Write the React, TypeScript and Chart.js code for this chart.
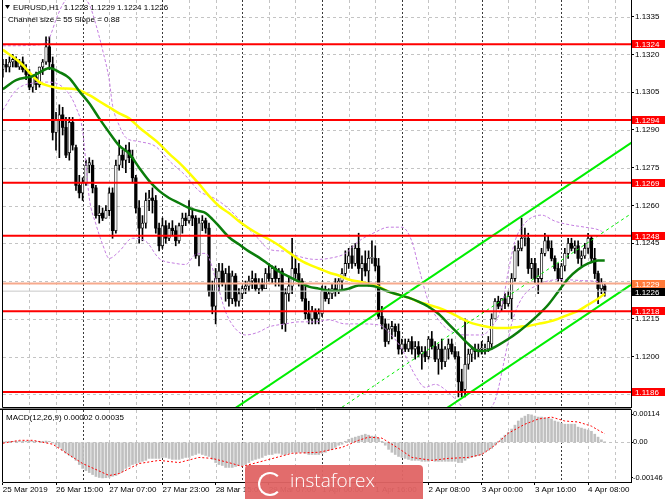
import React, { useEffect, useRef } from "react";
import { Chart, registerables } from "chart.js";
Chart.register(...registerables);

const FONT = '"Liberation Sans", Arial, sans-serif';

// ---------- candles (EURUSD H1) ----------
const opens = [1.1314,1.1316,1.1315,1.1317,1.1318,1.1315,1.1317,1.1314,1.1312,1.1307,
1.1311,1.1308,1.1315,1.1317,1.1323,1.1316,1.1289,1.1294,1.1296,1.1291,
1.1281,1.1293,1.1283,1.1268,1.1265,1.1269,1.1276,1.1276,1.1267,1.1256,
1.1257,1.1255,1.1258,1.1265,1.1250,1.1276,1.1280,1.1278,1.1282,1.1279,
1.1271,1.1259,1.1251,1.1253,1.1262,1.1263,1.1262,1.1251,1.1244,1.1252,
1.1247,1.1251,1.1250,1.1246,1.1252,1.1255,1.1254,1.1256,1.1255,1.1240,
1.1253,1.1254,1.1251,1.1226,1.1220,1.1231,1.1234,1.1229,1.1233,1.1223,
1.1232,1.1222,1.1225,1.1227,1.1228,1.1230,1.1231,1.1227,1.1229,1.1227,
1.1233,1.1231,1.1235,1.1231,1.1234,1.1213,1.1225,1.1228,1.1235,1.1233,
1.1230,1.1223,1.1217,1.1215,1.1218,1.1215,1.1217,1.1226,1.1223,1.1225,
1.1227,1.1226,1.1230,1.1233,1.1237,1.1240,1.1237,1.1243,1.1235,1.1237,
1.1234,1.1239,1.1239,1.1236,1.1216,1.1213,1.1206,1.1211,1.1212,1.1210,
1.1203,1.1205,1.1203,1.1206,1.1203,1.1204,1.1201,1.1202,1.1200,1.1207,
1.1204,1.1199,1.1203,1.1198,1.1203,1.1205,1.1202,1.1200,1.1190,1.1187,
1.1197,1.1201,1.1203,1.1202,1.1203,1.1203,1.1203,1.1205,1.1215,1.1222,
1.1220,1.1223,1.1221,1.1223,1.1231,1.1242,1.1243,1.1247,1.1247,1.1235,
1.1237,1.1231,1.1231,1.1241,1.1246,1.1243,1.1239,1.1235,1.1231,1.1236,
1.1241,1.1245,1.1243,1.1244,1.1239,1.1240,1.1243,1.1247,1.1239,1.1233,
1.1227,1.1228];
const highs = [1.1318,1.1318,1.1319,1.1320,1.1319,1.1318,1.1319,1.1316,1.1314,1.1312,
1.1313,1.1315,1.1318,1.1327,1.1327,1.1319,1.1297,1.1300,1.1299,1.1295,
1.1295,1.1295,1.1284,1.1272,1.1271,1.1278,1.1279,1.1278,1.1268,1.1260,
1.1259,1.1260,1.1267,1.1267,1.1278,1.1286,1.1282,1.1284,1.1285,1.1282,
1.1272,1.1262,1.1256,1.1265,1.1266,1.1267,1.1264,1.1253,1.1255,1.1254,
1.1253,1.1254,1.1252,1.1253,1.1257,1.1257,1.1262,1.1259,1.1256,1.1255,
1.1256,1.1255,1.1253,1.1230,1.1235,1.1237,1.1237,1.1235,1.1236,1.1234,
1.1233,1.1227,1.1228,1.1230,1.1232,1.1234,1.1233,1.1231,1.1231,1.1235,
1.1237,1.1236,1.1236,1.1235,1.1235,1.1227,1.1232,1.1247,1.1240,1.1237,
1.1231,1.1228,1.1222,1.1220,1.1219,1.1219,1.1228,1.1228,1.1227,1.1229,
1.1231,1.1231,1.1235,1.1242,1.1243,1.1244,1.1245,1.1249,1.1240,1.1242,
1.1242,1.1246,1.1244,1.1239,1.1220,1.1215,1.1213,1.1214,1.1213,1.1213,
1.1207,1.1207,1.1207,1.1208,1.1206,1.1206,1.1204,1.1204,1.1208,1.1210,
1.1206,1.1205,1.1207,1.1204,1.1207,1.1207,1.1204,1.1202,1.1195,1.1215,
1.1203,1.1204,1.1205,1.1205,1.1206,1.1205,1.1208,1.1217,1.1223,1.1224,
1.1223,1.1225,1.1226,1.1233,1.1244,1.1246,1.1255,1.1251,1.1249,1.1239,
1.1239,1.1235,1.1243,1.1249,1.1248,1.1246,1.1240,1.1237,1.1237,1.1243,
1.1247,1.1247,1.1246,1.1246,1.1242,1.1245,1.1249,1.1248,1.1243,1.1234,
1.1231,1.1229];
const lows = [1.1311,1.1313,1.1313,1.1315,1.1315,1.1314,1.1313,1.1310,1.1306,1.1305,
1.1306,1.1307,1.1312,1.1316,1.1314,1.1286,1.1282,1.1279,1.1288,1.1279,
1.1278,1.1282,1.1266,1.1263,1.1262,1.1268,1.1273,1.1265,1.1255,1.1253,
1.1254,1.1255,1.1256,1.1247,1.1249,1.1274,1.1275,1.1273,1.1277,1.1269,
1.1257,1.1245,1.1246,1.1251,1.1258,1.1257,1.1249,1.1242,1.1243,1.1245,
1.1246,1.1248,1.1244,1.1245,1.1249,1.1252,1.1253,1.1252,1.1239,1.1236,
1.1250,1.1249,1.1224,1.1217,1.1213,1.1226,1.1228,1.1222,1.1220,1.1221,
1.1220,1.1220,1.1223,1.1225,1.1226,1.1227,1.1226,1.1225,1.1226,1.1227,
1.1230,1.1229,1.1228,1.1228,1.1211,1.1210,1.1222,1.1225,1.1231,1.1228,
1.1222,1.1215,1.1213,1.1213,1.1213,1.1213,1.1216,1.1222,1.1221,1.1223,
1.1224,1.1225,1.1227,1.1232,1.1235,1.1235,1.1236,1.1233,1.1230,1.1232,
1.1228,1.1237,1.1234,1.1215,1.1211,1.1204,1.1205,1.1207,1.1208,1.1201,
1.1201,1.1202,1.1202,1.1201,1.1199,1.1200,1.1195,1.1198,1.1199,1.1203,
1.1198,1.1193,1.1195,1.1196,1.1199,1.1201,1.1199,1.1184,1.1184,1.1184,
1.1195,1.1198,1.1199,1.1200,1.1201,1.1201,1.1202,1.1203,1.1215,1.1219,
1.1218,1.1219,1.1220,1.1215,1.1230,1.1236,1.1242,1.1244,1.1233,1.1231,
1.1229,1.1225,1.1229,1.1240,1.1242,1.1238,1.1234,1.1230,1.1230,1.1234,
1.1239,1.1242,1.1241,1.1237,1.1236,1.1239,1.1241,1.1238,1.1231,1.1221,
1.1225,1.1224];
const closes = [1.1316,1.1315,1.1317,1.1318,1.1315,1.1317,1.1314,1.1312,1.1307,1.1311,
1.1308,1.1315,1.1317,1.1323,1.1317,1.1289,1.1294,1.1296,1.1291,1.1280,
1.1293,1.1284,1.1268,1.1265,1.1269,1.1276,1.1277,1.1267,1.1256,1.1257,
1.1255,1.1258,1.1265,1.1250,1.1276,1.1280,1.1278,1.1282,1.1279,1.1271,
1.1259,1.1251,1.1253,1.1262,1.1263,1.1262,1.1251,1.1244,1.1252,1.1247,
1.1251,1.1250,1.1246,1.1252,1.1255,1.1254,1.1256,1.1255,1.1240,1.1253,
1.1254,1.1251,1.1226,1.1220,1.1231,1.1234,1.1229,1.1233,1.1223,1.1232,
1.1222,1.1225,1.1227,1.1228,1.1230,1.1231,1.1227,1.1229,1.1227,1.1233,
1.1231,1.1235,1.1231,1.1234,1.1213,1.1225,1.1228,1.1235,1.1233,1.1230,
1.1223,1.1217,1.1215,1.1218,1.1215,1.1217,1.1226,1.1223,1.1225,1.1227,
1.1226,1.1230,1.1233,1.1237,1.1240,1.1237,1.1243,1.1235,1.1237,1.1234,
1.1239,1.1239,1.1236,1.1216,1.1213,1.1206,1.1211,1.1212,1.1210,1.1203,
1.1205,1.1203,1.1206,1.1203,1.1204,1.1201,1.1202,1.1200,1.1207,1.1204,
1.1199,1.1203,1.1198,1.1203,1.1205,1.1202,1.1200,1.1190,1.1186,1.1197,
1.1201,1.1203,1.1202,1.1203,1.1203,1.1203,1.1206,1.1215,1.1222,1.1220,
1.1223,1.1221,1.1224,1.1231,1.1242,1.1243,1.1247,1.1247,1.1235,1.1237,
1.1231,1.1232,1.1241,1.1246,1.1243,1.1239,1.1235,1.1231,1.1236,1.1241,
1.1245,1.1243,1.1244,1.1239,1.1240,1.1243,1.1247,1.1239,1.1233,1.1227,
1.1229,1.1226];

// ---------- indicators (bar index, value) ----------
const greenMA = [[0,1.13062],[4,1.13098],[9,1.13114],[13,1.13142],[14,1.13146],[17,1.1313],[20,1.13106],[23,1.13054],[26,1.13006],[29,1.12946],[32,1.1289],[35,1.12838],[38,1.12806],[41,1.1275],[44,1.12698],[47,1.12658],[50,1.1263],[53,1.1261],[56,1.1259],[59,1.12578],[61,1.1257],[63,1.12546],[65,1.12518],[68,1.12474],[71,1.12446],[74,1.12418],[77,1.12394],[80,1.12366],[83,1.12338],[86,1.12318],[89,1.12298],[92,1.12278],[95,1.1227],[98,1.12262],[101,1.12262],[104,1.1227],[107,1.12282],[110,1.12282],[113,1.12274],[116,1.12258],[119,1.12246],[122,1.12234],[125,1.12218],[128,1.12198],[131,1.1217],[134,1.1213],[137,1.1209],[140,1.1205],[143,1.12022],[146,1.12026],[149,1.12046],[152,1.1207],[155,1.12098],[158,1.1213],[161,1.12166],[164,1.12206],[167,1.12258],[170,1.1231],[173,1.12346],[176,1.1237],[179,1.12382],[181,1.12382]];
const yellowMA = [[0,1.13218],[5,1.1317],[11,1.1309],[14,1.13074],[17,1.13066],[22,1.13062],[26,1.13038],[29,1.13014],[32,1.1299],[35,1.12966],[38,1.12946],[41,1.1291],[44,1.12878],[47,1.12846],[50,1.12806],[53,1.1277],[56,1.1273],[59,1.12686],[62,1.12638],[65,1.12598],[68,1.1257],[71,1.12538],[74,1.1251],[77,1.12486],[80,1.12466],[83,1.12442],[86,1.12414],[89,1.12386],[92,1.12366],[95,1.1235],[98,1.12334],[101,1.12322],[104,1.12306],[107,1.12298],[110,1.1229],[113,1.12278],[116,1.12258],[119,1.12246],[122,1.12234],[125,1.12218],[128,1.12206],[131,1.12194],[134,1.12178],[137,1.12158],[140,1.12138],[143,1.12126],[146,1.12118],[149,1.12114],[152,1.12114],[155,1.12118],[158,1.12122],[161,1.1213],[164,1.12138],[167,1.1215],[170,1.12166],[173,1.12182],[176,1.12206],[179,1.1223],[181,1.1225]];
const bandUpper = [[0,1.13234],[11,1.13238],[14,1.13266],[16,1.13338],[18,1.13398],[20,1.13426],[23,1.13426],[26,1.13398],[28,1.13318],[30,1.13218],[32,1.13098],[33,1.12998],[35,1.12918],[37,1.1287],[41,1.12854],[46,1.12834],[50,1.12778],[55,1.12718],[59,1.12658],[64,1.12626],[68,1.12586],[73,1.12518],[77,1.12466],[80,1.12426],[85,1.12418],[89,1.12398],[94,1.12386],[98,1.1239],[103,1.1241],[107,1.12458],[112,1.12494],[116,1.12514],[120,1.12514],[123,1.12458],[125,1.12358],[128,1.12218],[131,1.12146],[134,1.12106],[139,1.12086],[144,1.12086],[147,1.12118],[150,1.12198],[152,1.12338],[154,1.12458],[157,1.1253],[162,1.12562],[166,1.12538],[171,1.12522],[175,1.12514],[180,1.12498],[181,1.12486]];
const bandLower = [[0,1.12978],[4,1.13058],[9,1.13086],[14,1.1309],[19,1.13058],[22,1.1299],[24,1.12898],[25,1.12766],[26,1.1263],[28,1.12526],[30,1.12446],[32,1.1239],[35,1.12418],[39,1.1247],[43,1.12458],[47,1.1239],[52,1.1237],[55,1.12366],[58,1.12406],[61,1.1241],[64,1.1231],[67,1.12178],[70,1.1211],[73,1.12086],[77,1.12098],[80,1.12118],[85,1.1213],[89,1.12138],[94,1.12138],[98,1.12146],[103,1.1213],[107,1.1213],[113,1.12126],[116,1.12098],[120,1.1203],[124,1.11926],[127,1.11878],[130,1.1189],[134,1.11858],[137,1.11818],[140,1.11778],[145,1.11786],[148,1.11826],[151,1.11998],[153,1.1213],[156,1.1223],[161,1.12286],[168,1.12306],[174,1.12302],[180,1.12294],[181,1.12282]];
const channelUpper = [[60,1.11708],[190,1.12858]];
const channelMiddle = [[90,1.11693],[190,1.12577]];
const channelLower = [[120,1.11676],[190,1.12295]];

const levels = [1.1324, 1.1294, 1.1269, 1.1248, 1.1218, 1.1186];
const askPrice = 1.1229;
const bidPrice = 1.1226;

const priceGrid = [1.1335,1.1320,1.1305,1.1290,1.1275,1.1260,1.1245,1.1230,1.1215,1.1200,1.1185];
const priceTickLabels = [1.1335,1.1320,1.1305,1.1290,1.1275,1.1260,1.1245,1.1215,1.1200];

const timeLabels = ["25 Mar 2019","26 Mar 15:00","27 Mar 07:00","27 Mar 23:00","28 Mar 15:00","29 Mar 07:00","1 Apr 00:00","1 Apr 16:00","2 Apr 08:00","3 Apr 00:00","3 Apr 16:00","4 Apr 08:00"];
const timeLabelBars = [0,16,32,48,64,80,96,112,128,144,160,176];
const gridBars = [8,16,32,40,56,64,80,88,104,112,128,136,152,160,176,184];
const daySeparatorBars = [24,48,72,96,120,144,168];

// ---------- MACD(12,26,9) ----------
const macdHist = [0.00002,0.00003,0.00004,0.00004,0.00004,0.00004,0.00004,0.00004,0.00004,0.00004,
0.00004,0.00004,0.00004,0.00005,0.00004,-0.00003,-0.00012,-0.00021,-0.00033,-0.00045,
-0.00054,-0.00062,-0.00074,-0.00091,-0.00107,-0.00116,-0.00124,-0.00132,-0.0014,-0.00144,
-0.00146,-0.00145,-0.00143,-0.00139,-0.00136,-0.00128,-0.0012,-0.00107,-0.00099,-0.00091,
-0.00087,-0.00083,-0.00078,-0.00074,-0.00066,-0.00066,-0.00066,-0.00066,-0.00062,-0.00062,
-0.00066,-0.0007,-0.0007,-0.0007,-0.00066,-0.00062,-0.00062,-0.00054,-0.0005,-0.00045,
-0.0005,-0.00054,-0.00058,-0.0007,-0.00083,-0.00091,-0.00095,-0.00103,-0.00103,-0.00103,
-0.00099,-0.00095,-0.00095,-0.00091,-0.00083,-0.00074,-0.0007,-0.00066,-0.00062,-0.00054,
-0.0005,-0.0005,-0.00045,-0.00045,-0.0005,-0.0005,-0.00045,-0.00041,-0.00041,-0.00041,
-0.00041,-0.00045,-0.0005,-0.0005,-0.0005,-0.0005,-0.00045,-0.00041,-0.00033,-0.00029,
-0.00021,-0.00012,-0.00008,0.00004,0.00012,0.00017,0.00021,0.00025,0.00029,0.00033,
0.00029,0.00025,0.00025,0.00017,0.00004,-0.00012,-0.00029,-0.00041,-0.0005,-0.00058,
-0.00062,-0.00066,-0.0007,-0.00074,-0.00074,-0.00074,-0.00078,-0.00078,-0.00078,-0.00074,
-0.00078,-0.00078,-0.00078,-0.00078,-0.00078,-0.00078,-0.00078,-0.00083,-0.00083,-0.00074,
-0.00066,-0.00062,-0.00058,-0.00054,-0.0005,-0.00041,-0.00033,-0.00025,-0.00012,0.00004,
0.00017,0.00029,0.00041,0.00054,0.0007,0.00087,0.00099,0.00107,0.00114,0.00112,
0.00107,0.00103,0.00103,0.00099,0.00099,0.00095,0.00087,0.00083,0.00078,0.00074,
0.00074,0.00074,0.00074,0.00062,0.00058,0.00054,0.0005,0.00045,0.00033,0.00021,
0.0001,0.00002];
const macdSignal = [[0,-0.00004],[5,0.00008],[9,0.00008],[15,-0.00008],[24,-0.00087],[32,-0.00136],[35,-0.00128],[41,-0.00087],[47,-0.00074],[53,-0.00083],[59,-0.00062],[63,-0.00066],[69,-0.00087],[72,-0.00099],[79,-0.00074],[87,-0.00045],[95,-0.00041],[102,-0.00021],[107,0.00008],[110,0.00021],[114,0.00017],[119,-0.00025],[123,-0.00062],[129,-0.00074],[134,-0.00066],[140,-0.00062],[144,-0.0005],[148,-0.00012],[152,0.00037],[157,0.00074],[161,0.00095],[165,0.00103],[169,0.00087],[173,0.00083],[177,0.00066],[179,0.0005],[181,0.00035]];
const macdTicks = [0.00114, 0, -0.00146];
const macdTickLabels = ["0.00114", "0.00", "-0.00146"];

// ---------- view ----------
const X_MIN = 0.06, X_MAX = 188.9;
const PRICE_MIN = 1.118, PRICE_MAX = 1.13416;
const MACD_MIN = -0.001625, MACD_MAX = 0.00132;

const pts = (arr: number[][]) => arr.map(([x, y]) => ({ x, y }));
const barIdx = opens.map((_, i) => i);

function drawVerticalGrid(chart: any) {
  const { ctx, chartArea: a, scales } = chart;
  const xs = scales.x;
  ctx.save();
  ctx.beginPath();
  ctx.rect(a.left, a.top, a.right - a.left, a.bottom - a.top);
  ctx.clip();
  ctx.lineWidth = 1;
  ctx.strokeStyle = "#c4c4c4";
  ctx.setLineDash([3, 3]);
  for (const b of gridBars) {
    const x = Math.round(xs.getPixelForValue(b)) + 0.5;
    ctx.beginPath(); ctx.moveTo(x, a.top); ctx.lineTo(x, a.bottom); ctx.stroke();
  }
  ctx.strokeStyle = "#3a3a3a";
  ctx.setLineDash([2, 2]);
  for (const b of daySeparatorBars) {
    const x = Math.round(xs.getPixelForValue(b)) + 0.5;
    ctx.beginPath(); ctx.moveTo(x, a.top); ctx.lineTo(x, a.bottom); ctx.stroke();
  }
  ctx.restore();
}

const mainPlugin = {
  id: "mainDeco",
  beforeDatasetsDraw(chart: any) {
    const { ctx, chartArea: a, scales } = chart;
    const ys = scales.y;
    ctx.save();
    ctx.lineWidth = 1;
    ctx.strokeStyle = "#c4c4c4";
    ctx.setLineDash([3, 3]);
    for (const v of priceGrid) {
      const y = Math.round(ys.getPixelForValue(v)) + 0.5;
      ctx.beginPath(); ctx.moveTo(a.left, y); ctx.lineTo(a.right, y); ctx.stroke();
    }
    ctx.restore();
    drawVerticalGrid(chart);
  },
  afterDraw(chart: any) {
    const { ctx, chartArea: a, scales } = chart;
    const ys = scales.y;
    ctx.save();
    ctx.strokeStyle = "#000";
    ctx.lineWidth = 1;
    ctx.beginPath();
    ctx.moveTo(a.left - 0.5, 0); ctx.lineTo(a.left - 0.5, a.bottom + 0.5);
    ctx.lineTo(a.right + 0.5, a.bottom + 0.5);
    ctx.stroke();
    ctx.fillStyle = "#000";
    ctx.beginPath(); ctx.moveTo(5, 5); ctx.lineTo(10, 5); ctx.lineTo(7.5, 9); ctx.closePath(); ctx.fill();
    ctx.font = `8px ${FONT}`;
    ctx.textBaseline = "middle";
    ctx.textAlign = "left";
    const n = opens.length - 1;
    ctx.fillText(`EURUSD,H1  ${opens[n].toFixed(4)} ${highs[n].toFixed(4)} ${lows[n].toFixed(4)} ${closes[n].toFixed(4)}`, 13, 7.5);
    ctx.fillText("Channel size = 55 Slope = 0.88", 8, 19.5);
    const box = (v: number, y: number, bg: string) => {
      ctx.fillStyle = bg;
      ctx.fillRect(632, Math.round(y - 4), 33, 8);
      ctx.fillStyle = "#fff";
      ctx.fillText(v.toFixed(4), 635, Math.round(y - 4) + 4.5);
    };
    for (const lv of levels) box(lv, ys.getPixelForValue(lv), "#ff0000");
    const askY = ys.getPixelForValue(askPrice);
    box(askPrice, askY, "#ff7b3b");
    const bidY = Math.max(ys.getPixelForValue(bidPrice), askY + 8);
    box(bidPrice, bidY, "#000000");
    ctx.restore();
  },
};

const macdPlugin = {
  id: "macdDeco",
  beforeDatasetsDraw(chart: any) {
    const { ctx, chartArea: a, scales } = chart;
    drawVerticalGrid(chart);
    ctx.save();
    ctx.strokeStyle = "#c4c4c4";
    ctx.setLineDash([3, 3]);
    const y0 = Math.round(scales.y.getPixelForValue(0)) + 0.5;
    ctx.beginPath(); ctx.moveTo(a.left, y0); ctx.lineTo(a.right, y0); ctx.stroke();
    ctx.restore();
  },
  afterDraw(chart: any) {
    const { ctx, chartArea: a } = chart;
    ctx.save();
    ctx.strokeStyle = "#808080";
    ctx.beginPath(); ctx.moveTo(0, 0.5); ctx.lineTo(a.right, 0.5); ctx.stroke();
    ctx.strokeStyle = "#000";
    ctx.beginPath(); ctx.moveTo(0, 1.5); ctx.lineTo(a.right + 0.5, 1.5); ctx.stroke();
    ctx.beginPath(); ctx.moveTo(a.left - 0.5, 1.5); ctx.lineTo(a.left - 0.5, a.bottom + 0.5); ctx.stroke();
    ctx.fillStyle = "#000";
    ctx.font = `8px ${FONT}`;
    ctx.textBaseline = "middle";
    const n = macdHist.length - 1;
    ctx.fillText(`MACD(12,26,9) ${macdHist[n].toFixed(5)} ${macdSignal[macdSignal.length - 1][1].toFixed(5)}`, 6, 10);
    ctx.restore();
  },
};

function lineDs(data: number[][], color: string, width: number, order: number, extra: any = {}) {
  return {
    type: "line", data: pts(data), borderColor: color, borderWidth: width, pointRadius: 0,
    fill: false, order, ...extra,
  };
}

function mainConfig(): any {
  const datasets: any[] = [];
  levels.forEach((lv) => datasets.push(lineDs([[-2, lv], [192, lv]], "#ff0000", 2, 1)));
  datasets.push(lineDs([[-2, askPrice], [192, askPrice]], "#f7a98c", 2, 2));
  datasets.push(lineDs([[-2, bidPrice], [192, bidPrice]], "#c8c8c8", 1, 2));
  datasets.push(lineDs(channelUpper, "#00ee00", 2, 3));
  datasets.push(lineDs(channelLower, "#00ee00", 2, 3));
  datasets.push(lineDs(channelMiddle, "#00ee00", 1, 3, { borderDash: [3, 3] }));
  datasets.push(lineDs(greenMA, "#0b7d0b", 2.5, 4, { cubicInterpolationMode: "monotone" }));
  datasets.push(lineDs(yellowMA, "#ffff00", 2.5, 5, { cubicInterpolationMode: "monotone" }));
  datasets.push(lineDs(bandUpper, "#c47ee0", 1, 6, { borderDash: [3, 2], cubicInterpolationMode: "monotone" }));
  datasets.push(lineDs(bandLower, "#c47ee0", 1, 6, { borderDash: [3, 2], cubicInterpolationMode: "monotone" }));
  datasets.push({
    type: "bar", order: 7, grouped: false, barThickness: 2.6, minBarLength: 1,
    data: barIdx.map((i) => ({ x: i, y: closes[i] >= opens[i] ? [opens[i], closes[i]] : null })),
    backgroundColor: "#ffffff", borderColor: "#000000", borderWidth: 0.8, borderSkipped: false,
  });
  datasets.push({
    type: "bar", order: 7, grouped: false, barThickness: 2.6, minBarLength: 1,
    data: barIdx.map((i) => ({ x: i, y: closes[i] < opens[i] ? [opens[i], closes[i]] : null })),
    backgroundColor: "#000000",
  });
  datasets.push({
    type: "bar", order: 8, grouped: false, barThickness: 1,
    data: barIdx.map((i) => ({ x: i, y: [lows[i], highs[i]] })),
    backgroundColor: "#000000",
  });
  return {
    type: "bar",
    data: { datasets },
    options: {
      animation: false, responsive: false, devicePixelRatio: 1,
      layout: { padding: { left: 3, top: 0, right: 0, bottom: 1 } },
      plugins: { legend: { display: false }, tooltip: { enabled: false } },
      scales: {
        x: { type: "linear", min: X_MIN, max: X_MAX, offset: false, display: false, grid: { offset: false } },
        y: {
          position: "right", min: PRICE_MIN, max: PRICE_MAX,
          afterBuildTicks: (s: any) => { s.ticks = priceTickLabels.map((v) => ({ value: v })); },
          afterFit: (s: any) => { s.width = 34; s.paddingTop = 0; s.paddingBottom = 0; },
          grid: { drawOnChartArea: false, tickLength: 3, color: "#000" },
          border: { display: true, color: "#000" },
          ticks: { font: { family: FONT, size: 8 }, color: "#000", padding: 1, autoSkip: false,
            callback: (v: any) => Number(v).toFixed(4) },
        },
      },
    },
    plugins: [mainPlugin],
  };
}

function macdConfig(): any {
  return {
    type: "bar",
    data: {
      datasets: [
        lineDs(macdSignal, "#ff0000", 1, 1, { borderDash: [2, 2] }),
        {
          type: "bar", order: 2, grouped: false, barThickness: 2,
          data: macdHist.map((v, i) => ({ x: i, y: v })),
          backgroundColor: "#c0c0c0",
        },
      ],
    },
    options: {
      animation: false, responsive: false, devicePixelRatio: 1,
      layout: { padding: { left: 3, top: 2, right: 0, bottom: 0 } },
      plugins: { legend: { display: false }, tooltip: { enabled: false } },
      scales: {
        x: {
          type: "linear", min: X_MIN, max: X_MAX, offset: false, position: "bottom",
          afterBuildTicks: (s: any) => { s.ticks = timeLabelBars.map((v) => ({ value: v })); },
          afterFit: (s: any) => { s.height = 17; s.paddingLeft = 0; s.paddingRight = 0; },
          grid: { drawOnChartArea: false, tickLength: 3, color: "#000", offset: false },
          border: { display: true, color: "#000" },
          ticks: { autoSkip: false, maxRotation: 0, minRotation: 0, align: "start", padding: 0,
            font: { family: FONT, size: 8 }, color: "#000",
            callback: (_v: any, i: number) => timeLabels[i] },
        },
        y: {
          position: "right", min: MACD_MIN, max: MACD_MAX,
          afterBuildTicks: (s: any) => { s.ticks = macdTicks.map((v) => ({ value: v })); },
          afterFit: (s: any) => { s.width = 34; s.paddingTop = 0; s.paddingBottom = 0; },
          grid: { drawOnChartArea: false, tickLength: 2, color: "#000" },
          border: { display: true, color: "#000" },
          ticks: { font: { family: FONT, size: 7.5 }, color: "#000", padding: 0, autoSkip: false,
            callback: (_v: any, i: number) => macdTickLabels[i] },
        },
      },
    },
    plugins: [macdPlugin],
  };
}

export default function App() {
  const mainRef = useRef<HTMLCanvasElement>(null);
  const macdRef = useRef<HTMLCanvasElement>(null);
  useEffect(() => {
    const c1 = new Chart(mainRef.current as HTMLCanvasElement, mainConfig());
    const c2 = new Chart(macdRef.current as HTMLCanvasElement, macdConfig());
    return () => { c1.destroy(); c2.destroy(); };
  }, []);
  return (
    <div style={{ position: "fixed", left: 0, top: 0, width: 665, height: 499, background: "#fff", overflow: "hidden" }}>
      <canvas ref={mainRef} width={665} height={408} style={{ position: "absolute", left: 0, top: 0, width: 665, height: 408 }} />
      <canvas ref={macdRef} width={665} height={91} style={{ position: "absolute", left: 0, top: 408, width: 665, height: 91 }} />
      <div style={{ position: "absolute", left: 245, top: 465, width: 178, height: 40, background: "rgba(224,100,100,0.95)", borderRadius: 4 }}>
        <div style={{ position: "absolute", left: 13, top: 7, width: 20, height: 20, border: "2px solid #fff", borderRadius: "50%", borderRightColor: "transparent" }} />
        <span style={{ position: "absolute", left: 45, top: 5, fontFamily: '"Open Sans", sans-serif', fontWeight: 300, fontSize: 19, lineHeight: "20px", color: "#fff" }}>instaforex</span>
      </div>
    </div>
  );
}
